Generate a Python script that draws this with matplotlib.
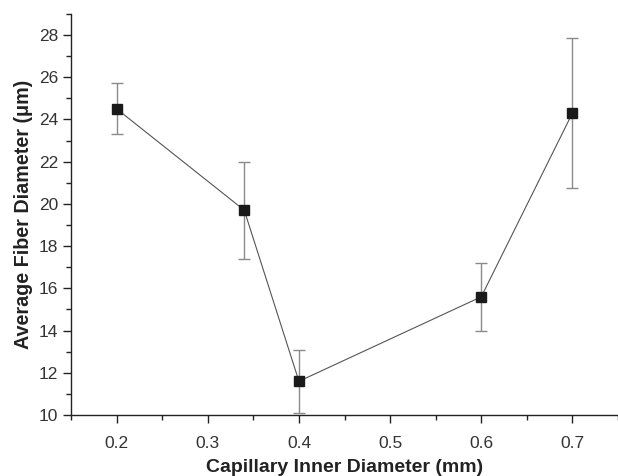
import numpy as np
import matplotlib.pyplot as plt
from matplotlib.ticker import MultipleLocator

# capillary inner diameter (mm) vs average fiber diameter (um)
capillary_mm = [0.2, 0.34, 0.4, 0.6, 0.7]
fiber_um = [24.5, 19.7, 11.6, 15.6, 24.3]
fiber_err = [1.2, 2.3, 1.5, 1.6, 3.57]
x_ticks = [0.2, 0.3, 0.4, 0.5, 0.6, 0.7]
x_labels = ['0.2', '0.3', '0.4', '0.5', '0.6', '0.7']

plt.rcParams['font.family'] = ['Liberation Sans', 'DejaVu Sans']

fig = plt.figure(figsize=(6.18, 4.76), dpi=100)
ax = fig.add_axes([0.115, 0.128, 0.885, 0.843])

ax.errorbar(capillary_mm, fiber_um, yerr=fiber_err, fmt='none',
            ecolor='#8a8a8a', elinewidth=1.0, capsize=4, capthick=1.0, zorder=2)
ax.plot(capillary_mm, fiber_um, '-', color='#555555', linewidth=0.8, zorder=3)
ax.plot(capillary_mm, fiber_um, 's', color='#1a1a1a', markersize=7, zorder=4)

ax.set_xlim(0.15, 0.75)
ax.set_ylim(10, 29)
ax.xaxis.set_minor_locator(MultipleLocator(0.05))
ax.yaxis.set_major_locator(MultipleLocator(2))
ax.yaxis.set_minor_locator(MultipleLocator(1))
ax.set_xticks(x_ticks)
ax.set_xticklabels(x_labels)

for s in ['top', 'right']:
    ax.spines[s].set_visible(False)
for s in ['left', 'bottom']:
    ax.spines[s].set_linewidth(1.0)
    ax.spines[s].set_color('#222222')

ax.tick_params(which='major', direction='out', length=6, width=1.0,
               color='#222222', labelsize=12.5, labelcolor='#333333')
ax.tick_params(axis='x', which='major', pad=9)
ax.tick_params(which='minor', direction='out', length=3.5, width=1.0, color='#222222')

ax.set_xlabel('Capillary Inner Diameter (mm)', fontsize=14, fontweight='bold',
              color='#222222', labelpad=6)
ax.set_ylabel('Average Fiber Diameter (\u03bcm)', fontsize=14.2, fontweight='bold',
              color='#222222', labelpad=4)

fig.savefig('out.png', dpi=100)
